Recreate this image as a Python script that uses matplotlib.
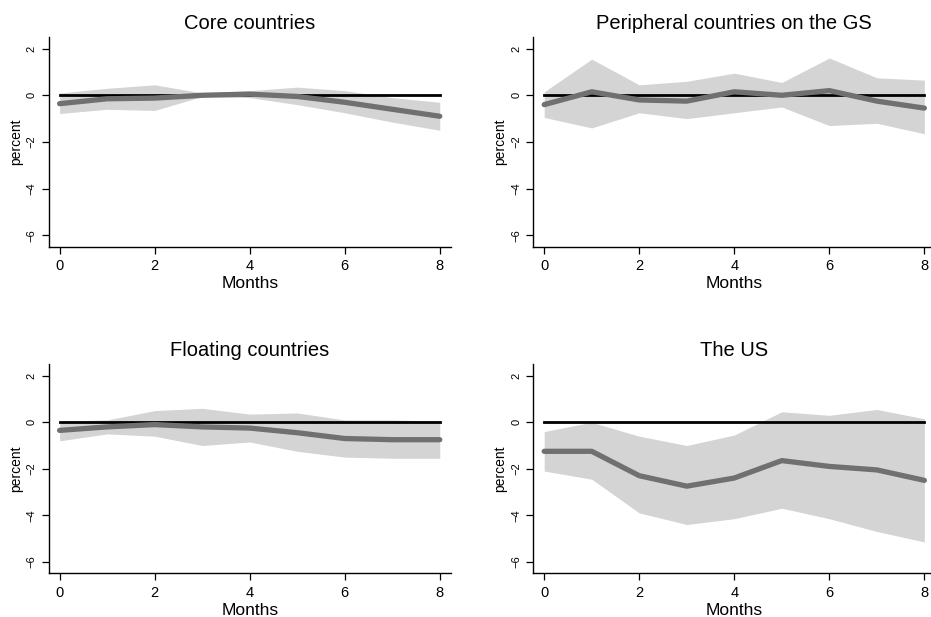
import numpy as np
import matplotlib.pyplot as plt

plt.rcParams['font.family'] = ['Liberation Sans', 'DejaVu Sans']

months = np.arange(9)

titles = ['Core countries', 'Peripheral countries on the GS',
          'Floating countries', 'The US']

core_irf = [-0.36, -0.15, -0.12, 0.0, 0.05, -0.05, -0.3, -0.6, -0.9]
core_hi = [0.1, 0.3, 0.45, 0.1, 0.2, 0.35, 0.2, -0.1, -0.3]
core_lo = [-0.78, -0.6, -0.65, -0.05, -0.1, -0.4, -0.75, -1.15, -1.5]

peri_irf = [-0.4, 0.15, -0.2, -0.25, 0.15, 0.0, 0.2, -0.25, -0.55]
peri_hi = [0.15, 1.55, 0.45, 0.6, 0.95, 0.55, 1.6, 0.75, 0.65]
peri_lo = [-0.95, -1.4, -0.75, -1.0, -0.75, -0.5, -1.3, -1.2, -1.65]

float_irf = [-0.35, -0.2, -0.1, -0.2, -0.25, -0.45, -0.7, -0.75, -0.75]
float_hi = [0.05, 0.1, 0.5, 0.6, 0.35, 0.4, 0.1, 0.1, 0.05]
float_lo = [-0.8, -0.5, -0.6, -1.0, -0.85, -1.25, -1.5, -1.55, -1.55]

us_irf = [-1.25, -1.25, -2.3, -2.75, -2.4, -1.65, -1.9, -2.05, -2.5]
us_hi = [-0.4, 0.0, -0.6, -1.0, -0.55, 0.45, 0.3, 0.55, 0.15]
us_lo = [-2.1, -2.45, -3.9, -4.4, -4.15, -3.7, -4.15, -4.7, -5.15]

panels = [(core_irf, core_lo, core_hi), (peri_irf, peri_lo, peri_hi),
          (float_irf, float_lo, float_hi), (us_irf, us_lo, us_hi)]

fig = plt.figure(figsize=(9.31, 6.17), dpi=100)
rects = [[0.0523, 0.600, 0.4318, 0.340], [0.5728, 0.600, 0.4318, 0.340],
         [0.0523, 0.0708, 0.4318, 0.339], [0.5728, 0.0708, 0.4318, 0.339]]

for rect, title, (irf, lo, hi) in zip(rects, titles, panels):
    ax = fig.add_axes(rect)
    ax.fill_between(months, lo, hi, color='#d4d4d4', lw=0)
    ax.plot(months, np.zeros(9), color='black', lw=2)
    ax.plot(months, irf, color='#707070', lw=3.8, solid_capstyle='round')
    ax.set_xlim(-0.23, 8.23)
    ax.set_ylim(-6.5, 2.5)
    ax.set_xticks([0, 2, 4, 6, 8])
    ax.set_yticks([-6, -4, -2, 0, 2])
    ax.tick_params(axis='x', labelsize=10.5, length=5, width=0.9, pad=4)
    ax.tick_params(axis='y', labelsize=8, length=5, width=0.9, labelrotation=90)
    for lab in ax.get_yticklabels():
        lab.set_va('center')
    ax.spines['top'].set_visible(False)
    ax.spines['right'].set_visible(False)
    ax.spines['left'].set_linewidth(1)
    ax.spines['bottom'].set_linewidth(1)
    ax.set_title(title, fontsize=14.5, pad=6)
    ax.set_xlabel('Months', fontsize=12.5, labelpad=2)
    ax.set_ylabel('percent', fontsize=10, labelpad=3)

fig.savefig('out.png', dpi=100)
